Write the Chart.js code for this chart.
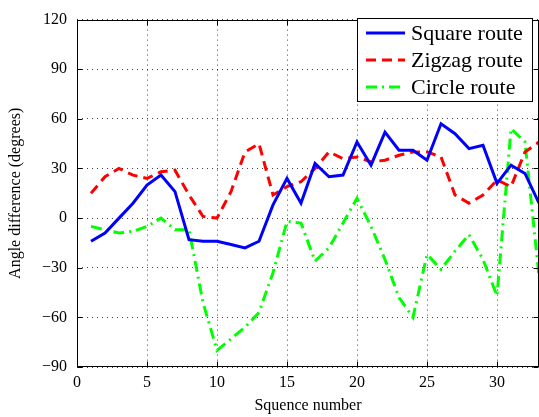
<!DOCTYPE html>
<html>
<head>
<meta charset="utf-8">
<script src="https://cdn.jsdelivr.net/npm/chart.js@4"></script>
<style>
  html, body { margin: 0; padding: 0; background: #fff; }
  #wrap { width: 539px; height: 417px; }
</style>
</head>
<body>
<div id="wrap"><canvas id="angleChart" width="539" height="417"></canvas></div>
<script>
  const seq = [1,2,3,4,5,6,7,8,9,10,11,12,13,14,15,16,17,18,19,20,21,22,23,24,25,26,27,28,29,30,31,32,33];
  const squareRoute = [-14,-9,0,9,20,26,16,-13,-14,-14,-16,-18,-14,8,24,9,33,25,26,46,32,52,41,41,35,57,51,42,44,21,32,27,9];
  const zigzagRoute = [15,25,30,26,24,28,29,14,1,0,16,40,45,14,19,22,30,40,36,37,34,35,38,40,40,37,14,9,14,23,19,40,46];
  const circleRoute = [-5,-7,-9,-8,-5,0,-7,-7,-51,-80,-73,-66,-57,-33,-2,-3,-26,-18,-3,12,-5,-25,-48,-60,-22,-31,-20,-10,-25,-47,54,46,-35];
  const xTicks = [0,5,10,15,20,25,30];
  const yTicks = [-90,-60,-30,0,30,60,90,120];

  const FONT = "'Liberation Serif', 'Times New Roman', serif";

  function pts(vals) { return vals.map((v, i) => ({ x: seq[i], y: v })); }
  function fmtTick(v) { return String(v).replace('-', '\u2212'); }

  // matlab-like frame with inward ticks on all four sides, and the boxed legend
  const matlabFrame = {
    id: 'matlabFrame',
    afterDraw(chart) {
      const { ctx, chartArea: a, scales } = chart;
      const L = Math.round(a.left) + 0.5, R = Math.round(a.right) - 0.5;
      const T = Math.round(a.top) + 0.5, B = Math.round(a.bottom) - 0.5;
      ctx.save();
      ctx.strokeStyle = '#000';
      ctx.lineWidth = 1;
      ctx.strokeRect(L, T, R - L, B - T);
      ctx.beginPath();
      xTicks.forEach(v => {
        const px = Math.round(scales.x.getPixelForValue(v)) + 0.5;
        ctx.moveTo(px, B); ctx.lineTo(px, B - 5);
        ctx.moveTo(px, T); ctx.lineTo(px, T + 5);
      });
      yTicks.forEach(v => {
        const py = Math.round(scales.y.getPixelForValue(v)) + 0.5;
        ctx.moveTo(L, py); ctx.lineTo(L + 5, py);
        ctx.moveTo(R, py); ctx.lineTo(R - 5, py);
      });
      ctx.stroke();

      // legend
      const bx = 357.5, by = 18.5, bw = 175, bh = 83;
      ctx.fillStyle = '#fff';
      ctx.fillRect(bx, by, bw, bh);
      ctx.strokeRect(bx, by, bw, bh);
      ctx.font = '22px ' + FONT;
      ctx.textBaseline = 'middle';
      chart.data.datasets.forEach((ds, i) => {
        const y = 33 + i * 27;
        ctx.beginPath();
        ctx.strokeStyle = ds.borderColor;
        ctx.lineWidth = 3;
        ctx.setLineDash(ds.borderDash || []);
        ctx.moveTo(366, y); ctx.lineTo(405, y);
        ctx.stroke();
        ctx.setLineDash([]);
        ctx.fillStyle = '#000';
        ctx.fillText(ds.label, 411, y + 1);
      });
      ctx.restore();
    }
  };

  new Chart(document.getElementById('angleChart'), {
    type: 'line',
    data: {
      datasets: [
        { label: 'Square route', data: pts(squareRoute), borderColor: '#0000ff', borderWidth: 3, pointRadius: 0, tension: 0 },
        { label: 'Zigzag route', data: pts(zigzagRoute), borderColor: '#ff0000', borderWidth: 3, borderDash: [10, 6], pointRadius: 0, tension: 0 },
        { label: 'Circle route', data: pts(circleRoute), borderColor: '#00ff00', borderWidth: 3, borderDash: [11, 5, 2, 5], pointRadius: 0, tension: 0 }
      ]
    },
    options: {
      responsive: false,
      animation: false,
      layout: { padding: { top: 11, right: 0, left: 0, bottom: 0 } },
      plugins: { legend: { display: false }, tooltip: { enabled: false } },
      scales: {
        x: {
          type: 'linear',
          min: 0, max: 33,
          afterBuildTicks: s => { s.ticks = xTicks.map(v => ({ value: v })); },
          afterFit: s => { s.height = 50; },
          grid: { color: 'rgba(0,0,0,0.75)', drawTicks: false },
          border: { display: false, dash: [1, 4] },
          ticks: { color: '#000', font: { family: FONT, size: 16 }, padding: 6, maxRotation: 0, callback: fmtTick },
          title: { display: true, text: 'Squence number', color: '#000', font: { family: FONT, size: 16 }, padding: { top: 0, bottom: 2 } }
        },
        y: {
          min: -90, max: 120,
          afterBuildTicks: s => { s.ticks = yTicks.map(v => ({ value: v })); },
          afterFit: s => { s.width = 77; },
          grid: { color: 'rgba(0,0,0,0.75)', drawTicks: false },
          border: { display: false, dash: [1, 4] },
          ticks: { color: '#000', font: { family: FONT, size: 16 }, padding: 10, callback: fmtTick },
          title: { display: true, text: 'Angle difference (degrees)', color: '#000', font: { family: FONT, size: 16 }, padding: { top: 6, bottom: 0 } }
        }
      }
    },
    plugins: [matlabFrame]
  });
</script>
</body>
</html>
